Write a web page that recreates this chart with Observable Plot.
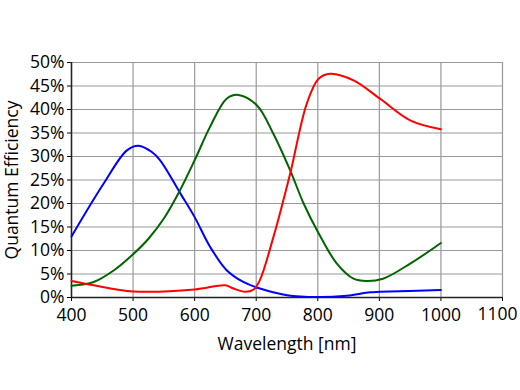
<!DOCTYPE html>
<html><head><meta charset="utf-8">
<script src="https://cdn.jsdelivr.net/npm/d3@7"></script>
<script src="https://cdn.jsdelivr.net/npm/@observablehq/plot@0.6"></script>
<style>body{margin:0;background:#fff}</style>
</head><body><div id="chart"></div>
<script>
const blueNm = [400, 452, 490, 509, 530, 544, 577, 600, 625, 652, 679, 706, 750, 800, 842, 885, 901, 1000];
const blueQE = [13.0, 24.2, 31.3, 32.3, 31.0, 29.2, 22.1, 17.1, 10.8, 5.8, 3.3, 1.9, 0.5, 0.1, 0.3, 1.1, 1.2, 1.6];
const greenNm = [400, 436, 469, 500, 525, 550, 575, 600, 625, 652, 671, 701, 728, 755, 777, 800, 831, 858, 879, 906, 950, 1000];
const greenQE = [2.5, 3.3, 5.8, 9.2, 12.5, 16.8, 22.5, 29.2, 36.3, 42.3, 43.1, 40.9, 34.8, 27.1, 20.0, 14.0, 7.2, 4.0, 3.5, 4.0, 7.2, 11.6];
const redNm = [400, 436, 500, 600, 650, 663, 682, 696, 706, 728, 755, 782, 801, 820, 858, 901, 950, 1000];
const redQE = [3.5, 2.6, 1.3, 1.7, 2.6, 1.9, 1.2, 1.7, 3.7, 12.9, 26.3, 41.2, 46.5, 47.6, 46.2, 42.3, 37.7, 35.8];
const xTicks = [400, 500, 600, 700, 800, 900, 1000, 1100];
const yTicks = [0, 5, 10, 15, 20, 25, 30, 35, 40, 45, 50];

const toRows = (nm, qe) => nm.map((x, i) => ({x, y: qe[i]}));
const blue = toRows(blueNm, blueQE);
const green = toRows(greenNm, greenQE);
const red = toRows(redNm, redQE);
const lastTick = xTicks[xTicks.length - 1];

const chart = Plot.plot({
  width: 520,
  height: 390,
  marginLeft: 71,
  marginRight: 18,
  marginTop: 62,
  marginBottom: 93,
  style: {fontFamily: "'Open Sans', sans-serif", fontSize: "17.5px", color: "#000", background: "#fff"},
  x: {domain: [400, 1100]},
  y: {domain: [0, 50]},
  marks: [
    Plot.gridX(xTicks, {stroke: "#999", strokeOpacity: 1, strokeWidth: 1.2}),
    Plot.gridY(yTicks, {stroke: "#999", strokeOpacity: 1, strokeWidth: 1.2}),
    Plot.axisX(xTicks, {tickSize: 4, tickPadding: 7, tickFormat: d => d === lastTick ? "" : String(d), label: "Wavelength [nm]", labelAnchor: "center", labelArrow: "none", labelOffset: 52, fontSize: 17.5}),
    Plot.text([lastTick], {x: d => d, frameAnchor: "bottom", dy: 17, dx: -5, text: d => String(d), fontSize: 17.5, lineAnchor: "middle", fill: "currentColor"}),
    Plot.axisY(yTicks, {tickSize: 4, tickPadding: 3, tickFormat: d => d + "%", label: "Quantum Efficiency", labelAnchor: "center", labelArrow: "none", labelOffset: 66, fontSize: 17.5}),
    Plot.ruleX([400], {stroke: "#222", strokeWidth: 1.5}),
    Plot.ruleY([0], {stroke: "#222", strokeWidth: 1.5}),
    Plot.line(blue, {x: "x", y: "y", stroke: "#0000ff", strokeWidth: 2, curve: "catmull-rom"}),
    Plot.line(green, {x: "x", y: "y", stroke: "#006400", strokeWidth: 2, curve: "catmull-rom"}),
    Plot.line(red, {x: "x", y: "y", stroke: "#ff0000", strokeWidth: 2, curve: "catmull-rom"})
  ]
});
document.getElementById("chart").appendChild(chart);
</script>
</body></html>
